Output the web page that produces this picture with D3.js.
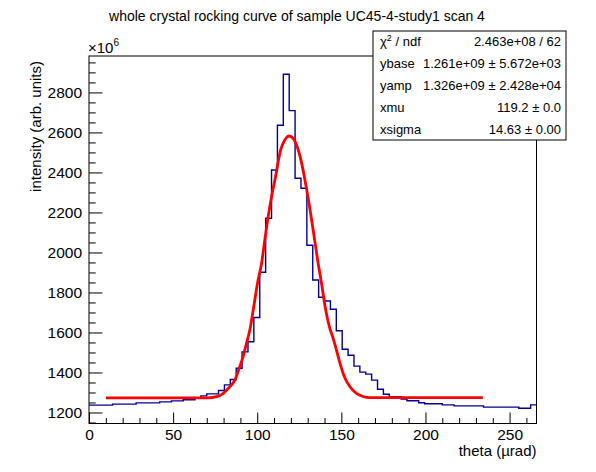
<!DOCTYPE html>
<html lang="en">
<head>
<meta charset="UTF-8">
<title>whole crystal rocking curve</title>
<script src="https://d3js.org/d3.v7.min.js"></script>
<style>
  body { margin: 0; background: #fff; }
  svg { font-family: "Liberation Sans", Arial, Helvetica, sans-serif; }
  .axis line { stroke: #000; }
  .axis text { font-size: 15.5px; fill: #000; font-family: "Liberation Sans", Arial, sans-serif; }
  .stat text { font-size: 13px; fill: #000; }
</style>
</head>
<body>
<script>
const width = 596, height = 472;
const frame = {left: 89, right: 536.5, top: 56, bottom: 423.5};

// histogram: 76 bins of 3.5 urad from 0, intensity in units of 1e6
const binStart = 0;
const binWidth = 3.5;
const counts = [
  1237, 1237, 1237, 1237, 1242, 1242, 1242, 1242, 1248, 1248,
  1248, 1248, 1253, 1253, 1258, 1258, 1264, 1264, 1272, 1283,
  1293, 1293, 1310, 1338, 1365, 1421, 1503, 1554, 1675, 1901,
  2171, 2412, 2636, 2891, 2709, 2371, 2321, 2036, 1862, 1776,
  1757, 1716, 1609, 1516, 1486, 1432, 1402, 1392, 1362, 1316,
  1291, 1279, 1279, 1267, 1259, 1259, 1249, 1244, 1244, 1244,
  1238, 1238, 1233, 1233, 1233, 1233, 1233, 1227, 1227, 1227,
  1227, 1227, 1227, 1221, 1221, 1238
];

// fit curve, points
const fitX = [10.1, 70.8, 75.8, 79.8, 83.7, 86.7, 89.3, 91.6, 93.6, 95.6,
  97.6, 100.5, 102.6, 104.5, 106.5, 108.5, 110.5, 114.0, 116.4, 118.9,
  121.3, 123.7, 126.3, 128.3, 130.3, 132.2, 134.2, 136.2, 138.2, 140.7,
  143.1, 145.1, 147.1, 149.0, 152.0, 155.0, 159.0, 162.9, 166.9, 234.1];
const fitY = [1273, 1273, 1279, 1296, 1329, 1362, 1421, 1479, 1546, 1612,
  1712, 1862, 1946, 2062, 2179, 2279, 2362, 2515, 2562, 2582,
  2571, 2530, 2450, 2365, 2270, 2170, 2058, 1946, 1846, 1712,
  1622, 1572, 1512, 1452, 1375, 1330, 1296, 1280, 1274, 1274];

const xTicks = [0, 50, 100, 150, 200, 250];
const xMinor = d3.range(0, 267, 10).filter(d => d % 50 !== 0);
const yTicks = [1200, 1400, 1600, 1800, 2000, 2200, 2400, 2600, 2800];
const yMinor = d3.range(1150, 2981, 50).filter(d => d % 200 !== 0);

const statLabels = ["ndf", "ybase", "yamp", "xmu", "xsigma"];
const statValues = ["2.463e+08 / 62", "1.261e+09 \u00b1 5.672e+03",
  "1.326e+09 \u00b1 2.428e+04", "119.2 \u00b1 0.0", "14.63 \u00b1 0.00"];

const svg = d3.select("body").append("svg")
    .attr("width", width).attr("height", height);

const x = d3.scaleLinear().domain([0, 266]).range([frame.left, frame.right]);
const y = d3.scaleLinear().domain([1145, 2982]).range([frame.bottom, frame.top]);

// title
svg.append("text")
    .attr("x", 297).attr("y", 16).attr("dy", "0.35em")
    .attr("text-anchor", "middle")
    .style("font-size", "14px")
    .text("whole crystal rocking curve of sample UC45-4-study1 scan 4");

// axes (ticks point inside the frame)
svg.append("g").attr("class", "axis")
    .attr("transform", `translate(0,${frame.bottom})`)
    .call(d3.axisBottom(x).tickValues(xTicks).tickSize(-11).tickSizeOuter(0).tickPadding(5));
svg.append("g").attr("class", "axis")
    .attr("transform", `translate(0,${frame.bottom})`)
    .call(d3.axisBottom(x).tickValues(xMinor).tickSize(-5.5).tickSizeOuter(0).tickFormat(""));

svg.append("g").attr("class", "axis")
    .attr("transform", `translate(${frame.left},0)`)
    .call(d3.axisLeft(y).tickValues(yTicks).tickFormat(d3.format("d"))
      .tickSize(-13.4).tickSizeOuter(0).tickPadding(7));
svg.append("g").attr("class", "axis")
    .attr("transform", `translate(${frame.left},0)`)
    .call(d3.axisLeft(y).tickValues(yMinor).tickSize(-6.7).tickSizeOuter(0).tickFormat(""));

svg.selectAll(".axis .domain").remove();

svg.append("rect")
    .attr("x", frame.left).attr("y", frame.top)
    .attr("width", frame.right - frame.left).attr("height", frame.bottom - frame.top)
    .attr("fill", "none").attr("stroke", "#000").attr("stroke-width", 1);

// histogram outline
const pts = [];
counts.forEach((c, i) => {
  pts.push([binStart + i * binWidth, c]);
  pts.push([binStart + (i + 1) * binWidth, c]);
});
svg.append("path")
    .datum(pts)
    .attr("fill", "none")
    .attr("stroke", "#000099")
    .attr("stroke-width", 1.4)
    .attr("d", d3.line().x(d => x(d[0])).y(d => y(d[1])));

// fit
svg.append("path")
    .datum(fitX.map((d, i) => [d, fitY[i]]))
    .attr("fill", "none")
    .attr("stroke", "#ff0000")
    .attr("stroke-width", 2.8)
    .attr("d", d3.line().curve(d3.curveMonotoneX).x(d => x(d[0])).y(d => y(d[1])));

// exponent
const ex = svg.append("text").attr("x", frame.left - 1).attr("y", 53)
    .style("font-size", "15px");
ex.append("tspan").text("\u00d710");
ex.append("tspan").attr("dy", -7).style("font-size", "10px").text("6");

// axis titles
svg.append("text")
    .attr("transform", `translate(36,${frame.top + 5}) rotate(-90)`)
    .attr("dy", "0.35em")
    .attr("text-anchor", "end")
    .style("font-size", "15px")
    .text("intensity (arb. units)");

svg.append("text")
    .attr("x", frame.right).attr("y", 451).attr("dy", "0.35em")
    .attr("text-anchor", "end")
    .style("font-size", "15px")
    .text("theta (\u00b5rad)");

// stat box
const box = {left: 373, top: 31, width: 193, row: 21.8};
const stat = svg.append("g").attr("class", "stat");
stat.append("rect")
    .attr("x", box.left).attr("y", box.top)
    .attr("width", box.width).attr("height", box.row * statLabels.length)
    .attr("fill", "#fff").attr("stroke", "#000").attr("stroke-width", 1);

statLabels.forEach((lab, i) => {
  const yy = box.top + (i + 0.5) * box.row;
  const t = stat.append("text").attr("x", box.left + 7).attr("y", yy).attr("dy", "0.35em");
  if (i === 0) {
    t.append("tspan").text("\u03c7");
    t.append("tspan").attr("dy", -5).style("font-size", "9px").text("2");
    t.append("tspan").attr("dy", 5).text(" / ndf");
  } else {
    t.text(lab);
  }
  stat.append("text")
      .attr("x", box.left + box.width - 5).attr("y", yy).attr("dy", "0.35em")
      .attr("text-anchor", "end")
      .text(statValues[i]);
});
</script>
</body>
</html>
